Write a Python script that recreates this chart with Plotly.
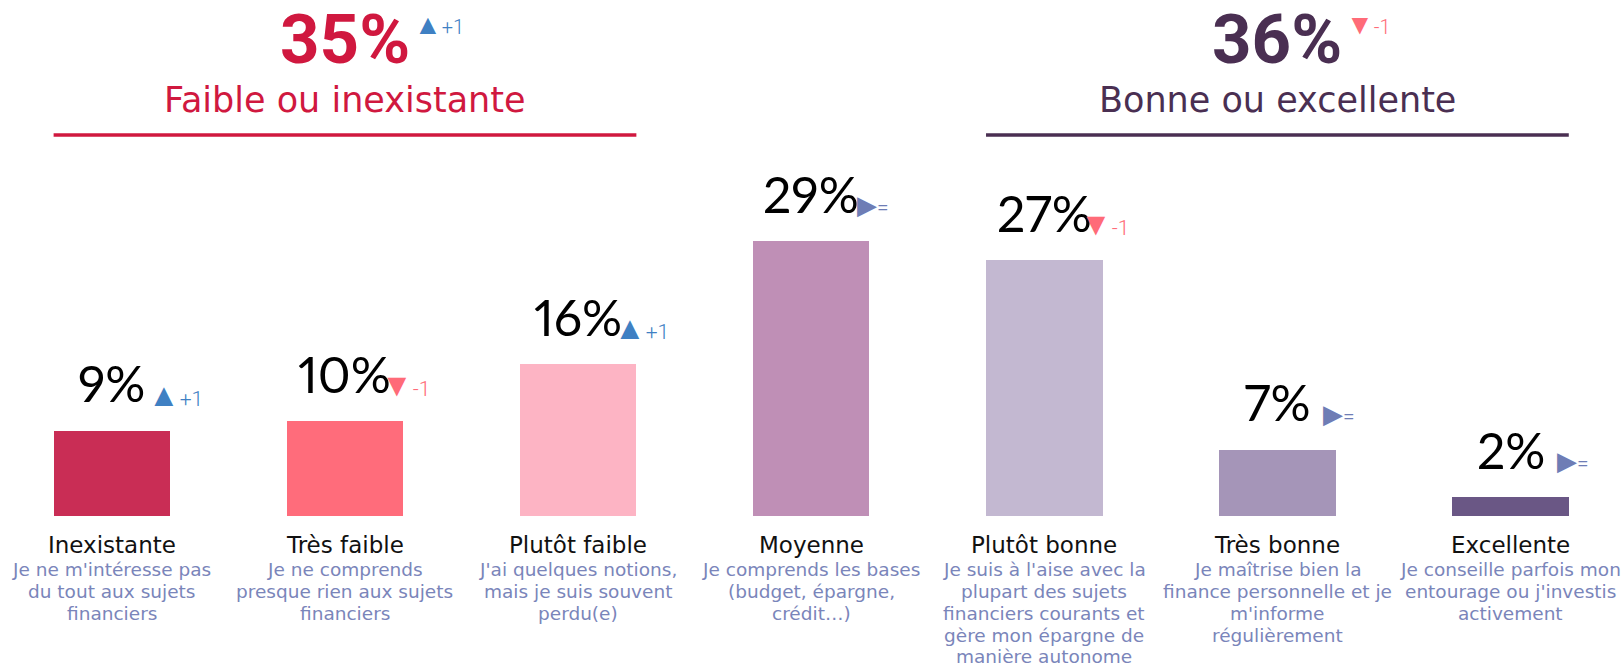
import plotly.graph_objects as go

# ---------------- data ----------------
categories = ["Inexistante", "Très faible", "Plutôt faible", "Moyenne",
              "Plutôt bonne", "Très bonne", "Excellente"]
descriptions = [
    "Je ne m'intéresse pas<br>du tout aux sujets<br>financiers",
    "Je ne comprends<br>presque rien aux sujets<br>financiers",
    "J'ai quelques notions,<br>mais je suis souvent<br>perdu(e)",
    "Je comprends les bases<br>(budget, épargne,<br>crédit…)",
    "Je suis à l'aise avec la<br>plupart des sujets<br>financiers courants et<br>gère mon épargne de<br>manière autonome",
    "Je maîtrise bien la<br>finance personnelle et je<br>m'informe<br>régulièrement",
    "Je conseille parfois mon<br>entourage ou j'investis<br>activement",
]
values = [9, 10, 16, 29, 27, 7, 2]
changes = [1, -1, 1, 0, -1, 0, 0]

group_names = ["Faible ou inexistante", "Bonne ou excellente"]
group_totals = [35, 36]
group_changes = [1, -1]

# ---------------- styles ----------------
W, H = 1621, 666
bar_colors = ["#C92D55", "#FF6C7B", "#FDB4C4", "#BF8FB6", "#C3B8D1", "#A595B8", "#6A5785"]
group_colors = ["#D0183F", "#4A2F52"]
group_centers = [1, 5]
desc_color = "#7A85BA"
up_color, down_color, flat_color = "#3F80C3", "#FF6B78", "#6E7DB5"
TXT_FONT = "DejaVu Sans"


def py(p):
    return 1 - p / H


def change_text(c, tri_size, flat_size, num_size):
    if c > 0:
        sym, col, lab, sz = "▲", up_color, f"+{c}", tri_size
    elif c < 0:
        sym, col, lab, sz = "▼", down_color, f"-{abs(c)}", tri_size
    else:
        sym, col, lab, sz = "▶", flat_color, "=", flat_size
    return (f"<span style='font-size:{sz}px'>{sym}</span>"
            f"<span style='font-size:{num_size}px'>{lab}</span>"), col


fig = go.Figure()
fig.add_trace(go.Bar(
    x=list(range(len(categories))), y=values,
    marker=dict(color=bar_colors, line=dict(width=0)),
    width=0.5, hoverinfo="skip",
))

ann = []
for i, (v, c) in enumerate(zip(values, changes)):
    ann.append(dict(x=i, y=v, xref="x", yref="y",
                    text=f"<span style='font-variant-numeric:proportional-nums'>{v}%</span>",
                    showarrow=False, yanchor="middle", yshift=47.4, borderpad=0,
                    font=dict(family="Lato", size=50, color="#000000", weight=400)))
    t, col = change_text(c, 32, 26, 21)
    ann.append(dict(x=i, y=v, xref="x", yref="y", text=t, showarrow=False,
                    xanchor="left", xshift=(45 if c == 0 else 35),
                    yanchor="middle", yshift=36, borderpad=0,
                    font=dict(family="Roboto", size=21, color=col, weight=300)))
    ann.append(dict(x=i, y=py(544.7), xref="x", yref="paper", text=categories[i],
                    showarrow=False, yanchor="middle", borderpad=0,
                    font=dict(family=TXT_FONT, size=23, color="#111111")))
    for k, line in enumerate(descriptions[i].split("<br>")):
        ann.append(dict(x=i, y=py(569.6 + 21.8 * k), xref="x", yref="paper", text=line,
                        showarrow=False, yanchor="middle", borderpad=0,
                        font=dict(family=TXT_FONT, size=18.5, color=desc_color)))

shapes = []
for g in range(2):
    cx = group_centers[g]
    ann.append(dict(x=cx, y=py(39.5), xref="x", yref="paper", text=f"{group_totals[g]}%",
                    showarrow=False, yanchor="middle", borderpad=0,
                    font=dict(family="Roboto", size=69, color=group_colors[g], weight=700)))
    t, col = change_text(group_changes[g], 28, 28, 20)
    ann.append(dict(x=cx, y=py(25), xref="x", yref="paper", text=t, showarrow=False,
                    xanchor="left", xshift=68, yanchor="middle", borderpad=0,
                    font=dict(family="Roboto", size=20, color=col, weight=300)))
    ann.append(dict(x=cx, y=py(99.6), xref="x", yref="paper", text=group_names[g],
                    showarrow=False, yanchor="middle", borderpad=0,
                    font=dict(family=TXT_FONT, size=35, color=group_colors[g])))
    shapes.append(dict(type="line", xref="x", yref="paper",
                       x0=cx - 1.25, x1=cx + 1.25, y0=py(135), y1=py(135),
                       line=dict(color=group_colors[g], width=3.5)))

fig.update_layout(
    width=W, height=H,
    margin=dict(l=0, r=0, t=0, b=0, pad=0),
    paper_bgcolor="white", plot_bgcolor="white",
    showlegend=False, hovermode=False,
    xaxis=dict(range=[-0.48, 6.474], visible=False, fixedrange=True),
    yaxis=dict(range=[-15.83, 54.43], visible=False, fixedrange=True),
    annotations=ann, shapes=shapes,
    bargap=0,
)
fig.write_html("out.html", config={"displayModeBar": False},
               post_script="document.body.style.margin='0';")
